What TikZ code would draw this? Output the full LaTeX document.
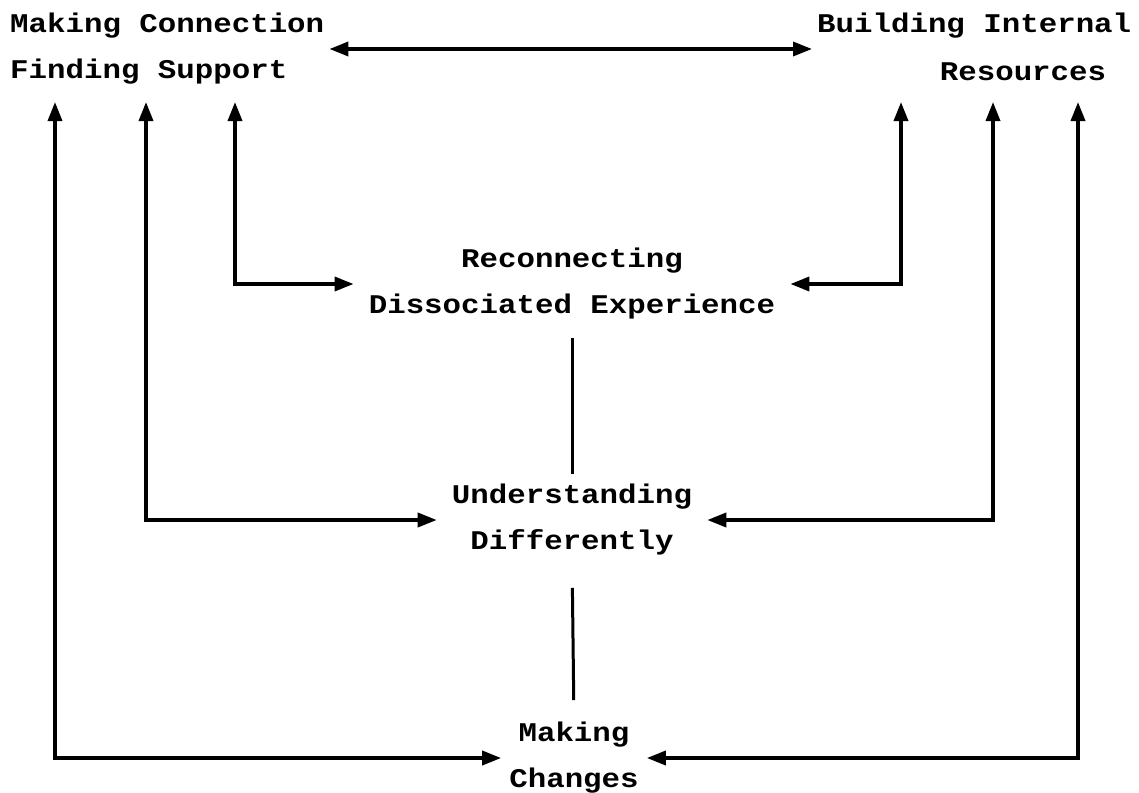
\documentclass[tikz,border=0pt]{standalone}
\usepackage{fontspec}
\setmonofont{Liberation Mono}[FakeStretch=1.14]
\usetikzlibrary{arrows.meta}
\tikzset{
  txt/.style={font=\ttfamily\bfseries\fontsize{27}{46}\selectfont, inner xsep=15pt, inner ysep=0pt, align=center},
  link/.style={line width=3.5pt, {Triangle[length=19pt,width=14pt]}-{Triangle[length=19pt,width=14pt]}},
  bar/.style={line width=3pt}
}
\begin{document}
\begin{tikzpicture}[x=1pt,y=-1pt]
\useasboundingbox (0,0) rectangle (1139,792);
\node[txt, anchor=west, align=left, inner xsep=5pt] (mc) at (5,49) {Making Connection\\Finding Support};
\node[txt, anchor=west, inner xsep=5pt] (bi) at (812,26) {Building Internal};
\node[txt] (res) at (1023,72) {Resources};
\node[txt] (rd) at (572,284) {Reconnecting\\Dissociated Experience};
\node[txt] (ud) at (572,520) {Understanding\\Differently};
\node[txt, inner xsep=8pt] (mk) at (574,758) {Making\\Changes};
% tips under the top labels
\foreach \n/\x in {mc1/55,mc2/146,mc3/235,bi1/901,bi2/993,bi3/1078}
  \coordinate (\n) at (\x,102);
\draw[link] (mc.east) -- (mc.east -| bi.west);
\draw[link] (mc3) |- (rd.west);
\draw[link] (bi1) |- (rd.east);
\draw[link] (mc2) |- (ud.west);
\draw[link] (bi2) |- (ud.east);
\draw[link] (mc1) |- (mk.west);
\draw[link] (bi3) |- (mk.east);
\draw[bar, shorten <=18pt, shorten >=10pt] (rd.south) -- (ud.north);
\draw[bar, shorten <=32pt, shorten >=22pt] (ud.south) -- (mk.north);
\end{tikzpicture}
\end{document}
